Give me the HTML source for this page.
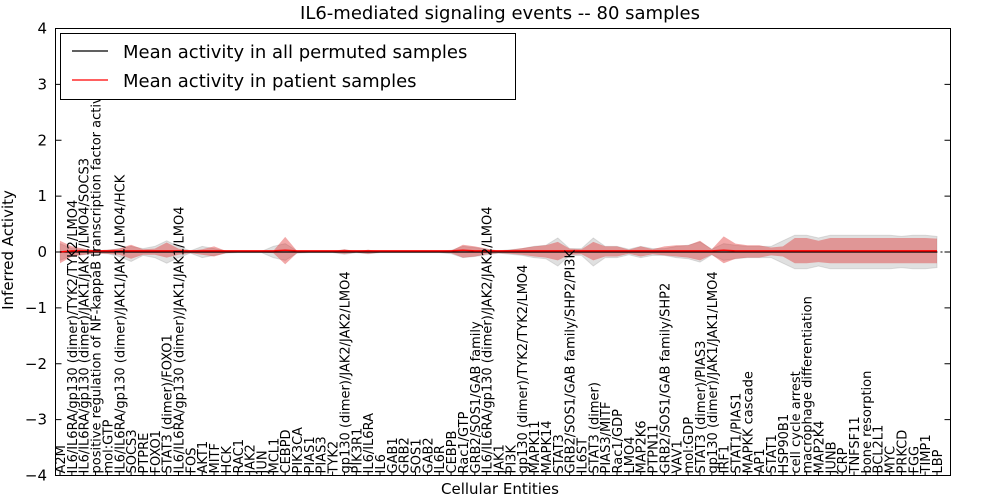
<!DOCTYPE html>
<html><head><meta charset="utf-8"><style>
html,body{margin:0;padding:0;background:#fff;}
svg{display:block;font-family:"DejaVu Sans","Liberation Sans",sans-serif;}
</style></head><body>
<svg id="chart" width="1000" height="500" viewBox="0 0 1000 500" xmlns="http://www.w3.org/2000/svg">
<rect width="1000" height="500" fill="#fff"/>
<text x="500" y="19" text-anchor="middle" font-size="18">IL6-mediated signaling events -- 80 samples</text>
<text x="500" y="494" text-anchor="middle" font-size="15">Cellular Entities</text>
<text transform="translate(13,250) rotate(-90)" text-anchor="middle" font-size="15">Inferred Activity</text>
<g id="bands"></g>
<g id="lines"></g>
<g id="ticks"></g>
<g id="xlabels"></g>
<rect x="55.5" y="28.5" width="895" height="447" fill="none" stroke="#000" stroke-width="1"/>
<g>
<rect x="60.5" y="33.5" width="455" height="66" fill="#fff" stroke="#000"/>
<line x1="72" y1="51" x2="108" y2="51" stroke="#000" stroke-width="1.2"/>
<text x="123" y="58" font-size="18">Mean activity in all permuted samples</text>
<line x1="72" y1="80" x2="108" y2="80" stroke="#f00" stroke-width="1.2"/>
<text x="123" y="87" font-size="18">Mean activity in patient samples</text>
</g>
</svg>
<script>
const categories=["A2M","IL6/IL6RA/gp130 (dimer)/TYK2/TYK2/LMO4","IL6/IL6RA/gp130 (dimer)/JAK1/JAK1/LMO4/SOCS3","positive regulation of NF-kappaB transcription factor activity","mol:GTP","IL6/IL6RA/gp130 (dimer)/JAK1/JAK1/LMO4/HCK","SOCS3","PTPRE","FOXO1","STAT3 (dimer)/FOXO1","IL6/IL6RA/gp130 (dimer)/JAK1/JAK1/LMO4","FOS","AKT1","MITF","HCK","RAC1","JAK2","JUN","MCL1","CEBPD","PIK3CA","PIAS1","PIAS3","TYK2","gp130 (dimer)/JAK2/JAK2/LMO4","PIK3R1","IL6/IL6RA","IL6","GAB1","GRB2","SOS1","GAB2","IL6R","CEBPB","Rac1/GTP","GRB2/SOS1/GAB family","IL6/IL6RA/gp130 (dimer)/JAK2/JAK2/LMO4","JAK1","PI3K","gp130 (dimer)/TYK2/TYK2/LMO4","MAPK11","MAPK14","STAT3","GRB2/SOS1/GAB family/SHP2/PI3K","IL6ST","STAT3 (dimer)","PIAS3/MITF","Rac1/GDP","LMO4","MAP2K6","PTPN11","GRB2/SOS1/GAB family/SHP2","VAV1","mol:GDP","STAT3 (dimer)/PIAS3","gp130 (dimer)/JAK1/JAK1/LMO4","IRF1","STAT1/PIAS1","MAPKK cascade","AP1","STAT1","HSP90B1","cell cycle arrest","macrophage differentiation","MAP2K4","JUNB","CRP","TNFSF11","bone resorption","BCL2L1","MYC","PRKCD","FGG","TIMP1","LBP"];
const patientMean=[0.0,0.02,0.02,0.02,0.02,0.02,0.02,0.02,0.02,0.02,0.02,0.02,0.02,0.02,0.02,0.02,0.02,0.02,0.02,0.03,0.02,0.02,0.02,0.02,0.02,0.02,0.02,0.02,0.02,0.02,0.02,0.02,0.02,0.02,0.03,0.02,0.02,0.02,0.02,0.02,0.02,0.02,0.02,0.02,0.02,0.02,0.02,0.02,0.02,0.02,0.02,0.02,0.02,0.02,0.02,0.02,0.03,0.02,0.02,0.02,0.02,0.02,0.02,0.02,0.02,0.02,0.02,0.02,0.02,0.02,0.02,0.02,0.02,0.02,0.02];
const patientUpper=[0.2,0.1,0.06,0.03,0.04,0.06,0.13,0.05,0.06,0.17,0.06,0.02,0.05,0.1,0.02,0.01,0.01,0.01,0.02,0.27,0.02,0.01,0.01,0.01,0.05,0.01,0.04,0.01,0.01,0.01,0.01,0.01,0.01,0.02,0.13,0.1,0.06,0.02,0.04,0.07,0.1,0.12,0.18,0.06,0.05,0.18,0.1,0.1,0.04,0.1,0.05,0.1,0.12,0.12,0.2,0.05,0.28,0.15,0.12,0.12,0.08,0.1,0.25,0.25,0.2,0.25,0.25,0.25,0.25,0.25,0.25,0.25,0.25,0.25,0.24];
const patientLower=[-0.2,-0.08,-0.05,-0.02,-0.03,-0.05,-0.12,-0.05,-0.05,-0.1,-0.05,-0.02,-0.05,-0.08,-0.02,-0.01,-0.01,-0.01,-0.02,-0.22,-0.02,-0.01,-0.01,-0.01,-0.03,-0.01,-0.03,-0.01,-0.01,-0.01,-0.01,-0.01,-0.01,-0.02,-0.1,-0.08,-0.04,-0.02,-0.03,-0.05,-0.08,-0.1,-0.15,-0.05,-0.04,-0.15,-0.08,-0.08,-0.03,-0.08,-0.04,-0.06,-0.08,-0.1,-0.15,-0.05,-0.2,-0.12,-0.1,-0.1,-0.06,-0.08,-0.2,-0.2,-0.18,-0.2,-0.2,-0.2,-0.2,-0.2,-0.2,-0.2,-0.2,-0.2,-0.2];
const permUpper=[0.15,0.06,0.05,0.02,0.03,0.06,0.1,0.06,0.1,0.2,0.1,0.02,0.1,0.06,0.02,0.01,0.01,0.01,0.1,0.15,0.02,0.01,0.01,0.01,0.04,0.01,0.03,0.01,0.01,0.01,0.01,0.01,0.01,0.03,0.1,0.08,0.05,0.02,0.04,0.06,0.1,0.12,0.25,0.06,0.06,0.25,0.1,0.1,0.05,0.1,0.06,0.06,0.1,0.12,0.18,0.05,0.15,0.12,0.1,0.1,0.1,0.2,0.3,0.3,0.25,0.3,0.3,0.3,0.3,0.3,0.3,0.28,0.3,0.3,0.28];
const permLower=[-0.15,-0.06,-0.05,-0.02,-0.03,-0.08,-0.17,-0.06,-0.1,-0.2,-0.1,-0.02,-0.1,-0.06,-0.02,-0.01,-0.01,-0.01,-0.1,-0.15,-0.02,-0.01,-0.01,-0.01,-0.04,-0.01,-0.03,-0.01,-0.01,-0.01,-0.01,-0.01,-0.01,-0.03,-0.1,-0.08,-0.05,-0.02,-0.04,-0.06,-0.1,-0.12,-0.25,-0.06,-0.06,-0.25,-0.1,-0.1,-0.05,-0.1,-0.06,-0.06,-0.1,-0.12,-0.18,-0.05,-0.15,-0.12,-0.1,-0.1,-0.1,-0.2,-0.3,-0.3,-0.25,-0.3,-0.3,-0.3,-0.3,-0.3,-0.3,-0.28,-0.3,-0.3,-0.28];
const yTicks=[-4,-3,-2,-1,0,1,2,3,4];

const NS="http://www.w3.org/2000/svg";
const X0=55.5,X1=950.5,Y0=28.5,Y1=475.5;
const xs=i=>60+i*(877/(categories.length-1));
const ys=v=>Y0+(4-v)/8*(Y1-Y0);
function mk(tag,attrs,parent){const e=document.createElementNS(NS,tag);for(const k in attrs)e.setAttribute(k,attrs[k]);parent.appendChild(e);return e;}
function bandPath(up,lo){let d="";up.forEach((v,i)=>{d+=(i?"L":"M")+xs(i).toFixed(1)+","+ys(v).toFixed(1);});for(let i=lo.length-1;i>=0;i--)d+="L"+xs(i).toFixed(1)+","+ys(lo[i]).toFixed(1);return d+"Z";}
const bands=document.getElementById('bands');
const gb=mk('path',{d:bandPath(permUpper,permLower),fill:'#000',"fill-opacity":0.12,stroke:'#999',"stroke-opacity":0.3},bands);


const rb=mk('path',{d:bandPath(patientUpper,patientLower),fill:'#e03030',"fill-opacity":0.42,stroke:'none'},bands);


const lines=document.getElementById('lines');
const zl=mk('line',{x1:X0,x2:X1,y1:ys(0),y2:ys(0),stroke:'#000',"stroke-dasharray":"2,3"},lines);


const pl=mk('line',{x1:xs(0),x2:xs(categories.length-1),y1:ys(0),y2:ys(0),stroke:'#000',"stroke-width":1.2},lines);


let d="";patientMean.forEach((v,i)=>{d+=(i?"L":"M")+xs(i).toFixed(1)+","+ys(v).toFixed(1);});
const ml=mk('path',{d:d,fill:'none',stroke:'#f00',"stroke-width":1.5},lines);


const ticks=document.getElementById('ticks');
yTicks.forEach(t=>{
  const y=ys(t);
  mk('line',{x1:X0,x2:X0+6,y1:y,y2:y,stroke:'#000'},ticks);
  mk('line',{x1:X1-6,x2:X1,y1:y,y2:y,stroke:'#000'},ticks);
  const tx=mk('text',{x:47,y:y+5,"text-anchor":"end","font-size":15},ticks);
  tx.textContent=t<0?"\u2212"+Math.abs(t):String(t);
  
  
});
const xl=document.getElementById('xlabels');
categories.forEach((c,i)=>{
  const x=xs(i);
  mk('line',{x1:x,x2:x,y1:Y1,y2:Y1-4,stroke:'#000'},ticks);
  const t=mk('text',{transform:`translate(${(x+5).toFixed(1)},${Y1-2}) rotate(-90)`,"font-size":13},xl);
  t.textContent=c;
  
  
});
</script>
</body></html>
